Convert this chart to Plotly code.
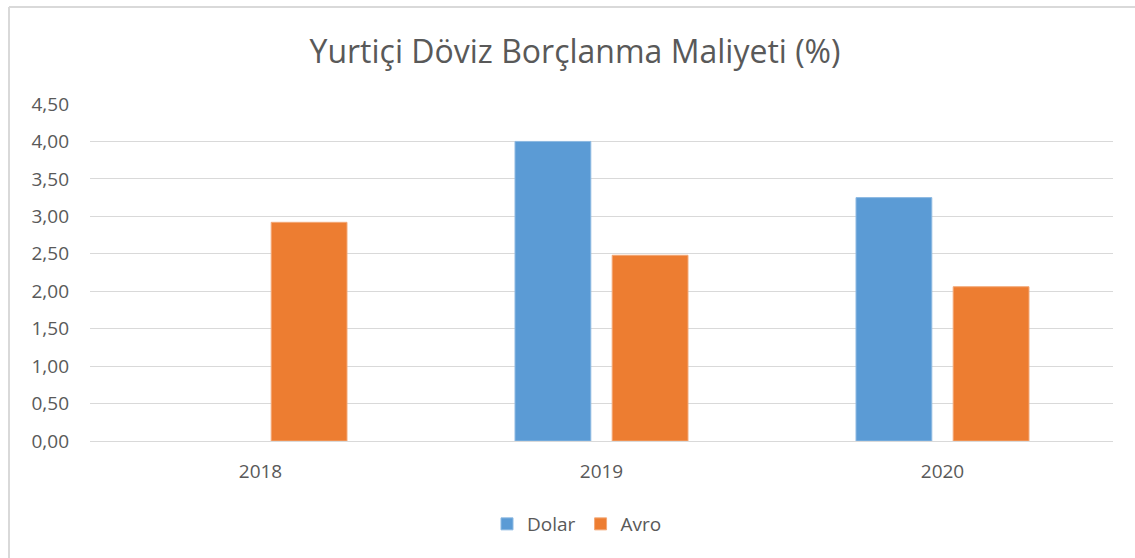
import plotly.graph_objects as go

categories = ["2018", "2019", "2020"]
dolar = [None, 4.00, 3.25]
avro = [2.92, 2.48, 2.06]
y_ticks = [0, 0.5, 1.0, 1.5, 2.0, 2.5, 3.0, 3.5, 4.0, 4.5]
y_tick_labels = ["0,00", "0,50", "1,00", "1,50", "2,00", "2,50", "3,00", "3,50", "4,00", "4,50"]

W, H = 1135, 558
L, R, T, B = 90, 22, 104, 117
pw, ph = W - L - R, H - T - B

def px_x(x):
    return (x - L) / pw

def px_y(y):
    return (H - B - y) / ph

font_family = "Open Sans, Liberation Sans, sans-serif"
gray = "#595959"

fig = go.Figure()
fig.add_trace(go.Bar(name="Dolar", x=categories, y=dolar, marker=dict(color="#5B9BD5", line=dict(color="#8DB9E2", width=1))))
fig.add_trace(go.Bar(name="Avro", x=categories, y=avro, marker=dict(color="#ED7D31", line=dict(color="#F3A877", width=1))))

fig.update_layout(
    width=W, height=H,
    margin=dict(l=L, r=R, t=T, b=B),
    paper_bgcolor="white", plot_bgcolor="white",
    barmode="group", bargap=0.43, bargroupgap=0.22,
    title=dict(text="Yurtiçi Döviz Borçlanma Maliyeti (%)", xref="container", x=575 / W, xanchor="center",
               yref="container", y=1 - 52 / H, yanchor="middle",
               font=dict(family=font_family, size=32, color=gray)),
    font=dict(family=font_family, size=19, color=gray),
    showlegend=True,
    legend=dict(orientation="h", x=px_x(577), xanchor="center", y=px_y(524), yanchor="middle",
                font=dict(size=19, color=gray), itemwidth=30, traceorder="normal"),
    xaxis=dict(showgrid=False, showline=True, linecolor="#D9D9D9", linewidth=1,
               ticks="", ticklabelstandoff=13, tickfont=dict(size=19, color=gray)),
    yaxis=dict(range=[0, 4.5], tickvals=y_ticks, ticktext=y_tick_labels,
               showgrid=True, gridcolor="#D9D9D9", gridwidth=1, zeroline=False,
               showline=False, ticks="", ticklabelstandoff=20,
               tickfont=dict(size=19, color=gray)),
    shapes=[
        dict(type="line", xref="paper", yref="paper", x0=px_x(9), x1=px_x(1140), y0=px_y(7), y1=px_y(7),
             line=dict(color="#D9D9D9", width=2)),
        dict(type="line", xref="paper", yref="paper", x0=px_x(9), x1=px_x(9), y0=px_y(7), y1=px_y(565),
             line=dict(color="#D9D9D9", width=2)),
    ],
)

fig.write_html("out.html", config={"displayModeBar": False},
               post_script="document.body.style.margin='0';document.body.style.padding='0';")
